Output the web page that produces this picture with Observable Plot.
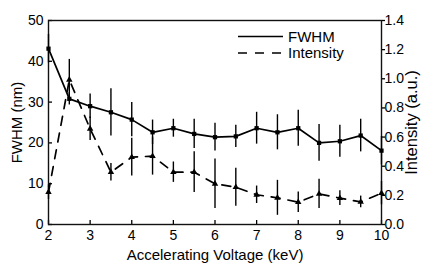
<!DOCTYPE html>
<html><head><meta charset="utf-8">
<script src="https://cdn.jsdelivr.net/npm/d3@7"></script>
<script src="https://cdn.jsdelivr.net/npm/@observablehq/plot@0.6"></script>
<style>
body{margin:0;background:#fff;}
#chart{position:relative;width:421px;height:263px;}
svg{font-family:"Liberation Sans",Arial,sans-serif;}
</style>
</head><body><div id="chart"></div>
<script>
const voltage = [2, 2.5, 3, 3.5, 4, 4.5, 5, 5.5, 6, 6.5, 7, 7.5, 8, 8.5, 9, 9.5, 10];
const fwhm = [43.1, 30.8, 29.0, 27.5, 25.7, 22.6, 23.6, 22.2, 21.4, 21.6, 23.6, 22.6, 23.6, 20.0, 20.4, 21.8, 18.1];
const fwhmErr = [3.5, 1.5, 3.0, 5.8, 4.2, 3.0, 2.2, 3.6, 3.4, 2.7, 3.9, 4.3, 4.4, 4.5, 3.9, 4.0, 3.5];
const intensity = [0.222, 0.993, 0.657, 0.359, 0.462, 0.469, 0.359, 0.359, 0.279, 0.256, 0.204, 0.183, 0.153, 0.21, 0.181, 0.155, 0.215];
const intensityErr = [0.05, 0.14, 0.08, 0.06, 0.13, 0.13, 0.07, 0.14, 0.17, 0.13, 0.06, 0.12, 0.07, 0.10, 0.05, 0.04, 0.08];
const xTicks = [2, 3, 4, 5, 6, 7, 8, 9, 10];
const yTicks = [0, 10, 20, 30, 40, 50];
const rightTicks = [0, 0.2, 0.4, 0.6, 0.8, 1.0, 1.2, 1.4];
const seriesNames = ["FWHM", "Intensity"];

const k = 50 / 1.4; // right axis -> left axis scale
const A = voltage.map((v, i) => ({v, y: fwhm[i], lo: fwhm[i] - fwhmErr[i], hi: fwhm[i] + fwhmErr[i]}));
const B = voltage.map((v, i) => ({v, y: intensity[i] * k, lo: (intensity[i] - intensityErr[i]) * k, hi: (intensity[i] + intensityErr[i]) * k}));

const plot = Plot.plot({
  width: 421, height: 263,
  marginLeft: 48, marginRight: 40, marginTop: 20, marginBottom: 39,
  style: {fontSize: "14px", fontFamily: "'Liberation Sans', Arial, sans-serif", color: "#000", background: "#fff"},
  x: {domain: [2, 10]},
  y: {domain: [0, 50]},
  marks: [
    Plot.axisX(xTicks, {tickSize: -4, tickPadding: 10, fontSize: 14, label: null, strokeWidth: 1.3}),
    Plot.axisX({label: "Accelerating Voltage (keV)", ticks: [], tickSize: 0, fontSize: 15, labelAnchor: "center", labelArrow: "none", labelOffset: 35}),
    Plot.axisY(yTicks, {anchor: "left", tickSize: -4, tickPadding: 9, fontSize: 14, label: null, strokeWidth: 1.3}),
    Plot.axisY({anchor: "left", ticks: [], tickSize: 0, fontSize: 15, label: "FWHM (nm)", labelAnchor: "center", labelArrow: "none", labelOffset: 37}),
    Plot.axisY(rightTicks.map(t => t * k), {anchor: "right", tickSize: 3, tickPadding: 0, fontSize: 14, tickFormat: d => (d / k).toFixed(1), label: null, strokeWidth: 1.3}),
    Plot.axisY({anchor: "right", ticks: [], tickSize: 0, fontSize: 16.5, label: "Intensity (a.u.)", labelAnchor: "center", labelArrow: "none", labelOffset: 35}),
    Plot.frame({stroke: "#111", strokeWidth: 1.4}),
    Plot.ruleX(A, {x: "v", y1: "lo", y2: "hi", stroke: "#000", strokeWidth: 1.4}),
    Plot.ruleX(B, {x: "v", y1: "lo", y2: "hi", stroke: "#000", strokeWidth: 1.4}),
    Plot.line(A, {x: "v", y: "y", stroke: "#000", strokeWidth: 1.7}),
    Plot.line(B, {x: "v", y: "y", stroke: "#000", strokeWidth: 1.7, strokeDasharray: "9,8"}),
    Plot.dot(A, {x: "v", y: "y", symbol: "square", r: 2.4, fill: "#000"}),
    Plot.dot(B, {x: "v", y: "y", symbol: "triangle", r: 2.4, fill: "#000"})
  ]
});
document.getElementById("chart").appendChild(plot);

// legend inside the plot (upper right)
const svg = d3.select(plot);
const lg = svg.append("g").attr("font-size", 15).attr("text-anchor", "start")
  .attr("font-family", "'Liberation Sans', Arial, sans-serif");
const rows = [{name: seriesNames[0], dash: null, y: 36.5}, {name: seriesNames[1], dash: "9,8", y: 53}];
rows.forEach(r => {
  lg.append("line").attr("x1", 238).attr("x2", 283).attr("y1", r.y).attr("y2", r.y)
    .attr("stroke", "#000").attr("stroke-width", 1.7).attr("stroke-dasharray", r.dash);
  lg.append("text").attr("x", 288).attr("y", r.y).attr("dy", "0.35em").attr("text-anchor", "start").text(r.name);
});
</script></body></html>
